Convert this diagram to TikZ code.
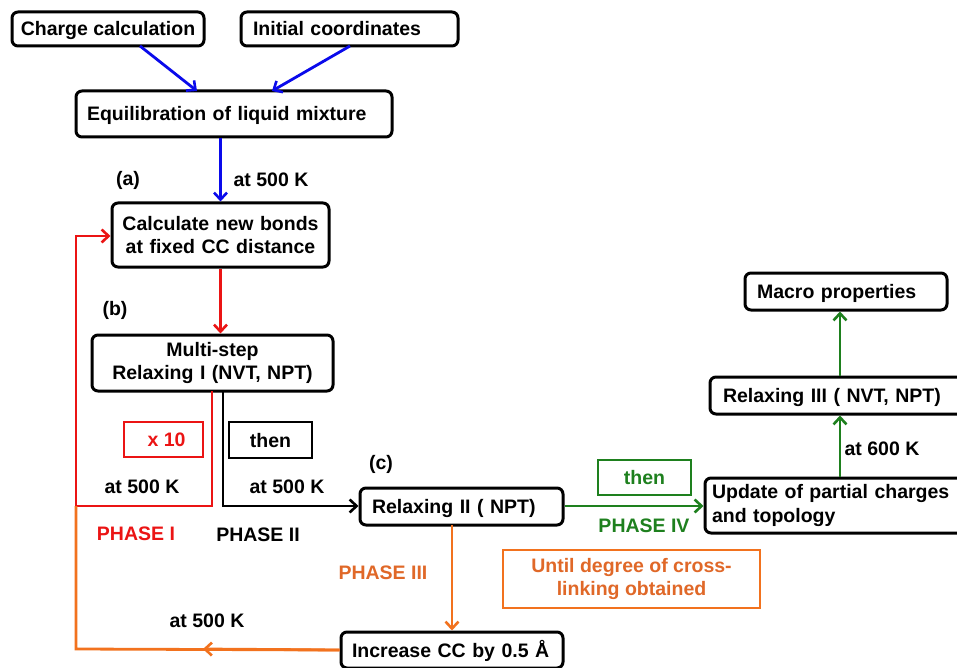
\documentclass[tikz,border=0pt]{standalone}
\usepackage{fontspec}
\setmainfont{Liberation Sans}
\usetikzlibrary{arrows.meta}
\definecolor{myblue}{RGB}{10,10,235}
\definecolor{myred}{RGB}{235,20,20}
\definecolor{myorange}{RGB}{242,114,30}
\definecolor{orangetext}{RGB}{224,104,40}
\definecolor{mygreen}{RGB}{30,128,30}
\tikzset{
  box/.style={draw=black, line width=3pt, rounded corners=6pt, inner sep=0pt,
    font=\bfseries\fontsize{19.5}{23.5}\selectfont, fill=white},
  one/.style={text height=14pt, text depth=0pt},
  lbl/.style={font=\bfseries\fontsize{19.5}{23.5}\selectfont, inner sep=0pt},
  tag/.style={draw, line width=2.6pt, inner sep=0pt, font=\bfseries\fontsize{19.5}{23.5}\selectfont},
  conn/.style={line width=2.8pt, -{Straight Barb[length=7pt,width=13pt,line width=2.6pt]}},
  plain/.style={line width=2.8pt},
}
\begin{document}
\begin{tikzpicture}[x=1pt,y=-1pt]
\clip (0,0) rectangle (957,668);
\fill[white] (0,0) rectangle (957,668);
% boxes
\node[box, one, minimum width=192pt, minimum height=34pt, align=center] (charge) at (108,29) {Charge calculation};
\node[box, one, minimum width=217pt, minimum height=34pt, text width=193pt, align=left] (init) at (349.5,29) {Initial coordinates};
\node[box, one, minimum width=316pt, minimum height=46pt, text width=294pt, align=left] (equil) at (234,114) {Equilibration of liquid mixture};
\node[box, minimum width=217pt, minimum height=64pt, align=center, text width=210pt] (calc) at (220.5,235) {Calculate new bonds\\at fixed CC distance};
\node[box, minimum width=241pt, minimum height=56pt, align=center, text width=230pt] (multi) at (212.5,363) {Multi-step\\Relaxing I (NVT, NPT)\hspace{10pt}};
\node[box, one, minimum width=203pt, minimum height=37pt, text width=179pt, align=left] (relax2) at (461.5,506.5) {Relaxing II ( NPT)};
\node[box, one, minimum width=222pt, minimum height=36pt, text width=200pt, align=left] (incr) at (452,650) {Increase CC by 0.5 Å};
\node[box, minimum width=270pt, minimum height=55pt, text width=256pt, align=left] (update) at (840,505.5) {Update of partial charges\\and topology};
\node[box, one, minimum width=260pt, minimum height=37pt, text width=234pt, align=left] (relax3) at (840,395.5) {Relaxing III ( NVT, NPT)};
\node[box, one, minimum width=202pt, minimum height=37pt, text width=178pt, align=left] (macro) at (846,291.5) {Macro properties};
% tag boxes
\node[tag, one, draw=myred, text=myred, minimum width=79pt, minimum height=35pt] (x10) at (163.5,439.5) {\hspace{6pt}x 10};
\node[tag, one, draw=black, minimum width=83pt, minimum height=36pt] (then1) at (270.5,440) {then};
\node[tag, one, draw=mygreen, text=mygreen, minimum width=93pt, minimum height=35pt] (then2) at (644.5,477.5) {then};
\node[tag, draw=myorange, text=orangetext, minimum width=257pt, minimum height=58pt, align=center] (until) at (631.5,579) {Until degree of cross-\\linking obtained};
% labels
\node[lbl] (la) at (128,180) {(a)};
\node[lbl] (t1) at (271,180) {at 500 K};
\node[lbl] (lb) at (115,310) {(b)};
\node[lbl] (t2) at (142,487) {at 500 K};
\node[lbl] (t3) at (287,487) {at 500 K};
\node[lbl] (lc) at (381,464) {(c)};
\node[lbl, text=myred] (p1) at (136,534) {PHASE I};
\node[lbl] (p2) at (258,535) {PHASE II};
\node[lbl, text=orangetext] (p3) at (383,573) {PHASE III};
\node[lbl] (t4) at (207,621) {at 500 K};
\node[lbl, text=mygreen] (p4) at (644,526) {PHASE IV};
\node[lbl] (t5) at (882,449) {at 600 K};
% coordinates
\coordinate (cb) at (140,46);
\coordinate (ct) at (197,91);
\coordinate (ib) at (350,46);
\coordinate (it) at (272,91);
\coordinate (mr) at (212,391);
\coordinate (mb) at (223,391);
\coordinate (redc) at (212,506);
\coordinate (leftb) at (76,506);
\coordinate (leftt) at (76,236);
\coordinate (blkc) at (223,506);
\coordinate (r2b) at (452,525);
\coordinate (orl) at (76,649);
\coordinate (ormid) at (203,649);
% connectors
\draw[conn, myblue] (cb) -- (ct);
\draw[conn, myblue] (ib) -- (it);
\draw[conn, myblue] (equil.south -| calc.north) -- (calc.north);
\draw[conn, myred] (calc.south) -- (multi.north -| calc.south);
\draw[plain, myred, line join=miter] (mr) -- (redc) -- (leftb);
\draw[conn, myred] (leftb) -- (leftt) -- (calc.west |- leftt);
\draw[conn, black] (mb) -- (blkc) -- (relax2.west |- blkc);
\draw[conn, myorange] (r2b) -- (incr.north -| r2b);
\draw[plain, myorange] (incr.west) -- (orl) -- (leftb);
\draw[conn, myorange] (incr.west) -- (ormid);
\draw[conn, mygreen] (relax2.east |- blkc) -- (update.west |- blkc);
\draw[conn, mygreen] (update.north) -- (relax3.south);
\draw[conn, mygreen] (relax3.north) -- (relax3.north |- macro.south);
\end{tikzpicture}
\end{document}
